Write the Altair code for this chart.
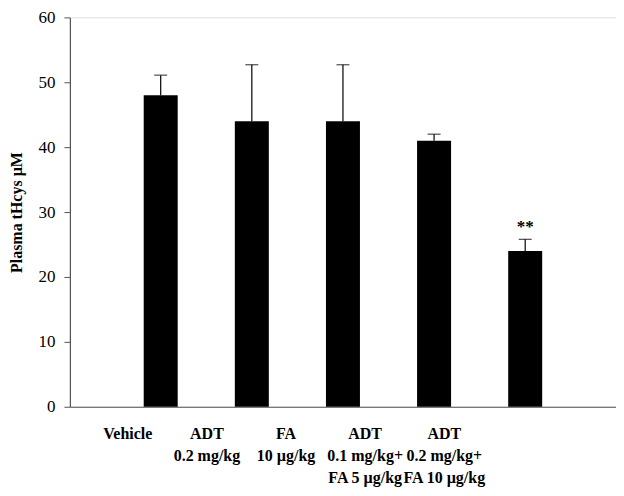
import altair as alt
import pandas as pd

groups = ["Vehicle", "ADT\n0.2 mg/kg", "FA\n10 µg/kg",
          "ADT\n0.1 mg/kg+\nFA 5 µg/kg", "ADT\n0.2 mg/kg+\nFA 10 µg/kg"]
means = [48.0, 44.0, 44.0, 41.0, 24.0]
upper = [51.1, 52.7, 52.7, 42.0, 25.8]
signif = ["", "", "", "", "**"]

df = pd.DataFrame({"g": groups, "mean": means, "upper": upper, "sig": signif})

FONT = "Liberation Serif"
AX = "#555555"

xband = alt.X("g:N", sort=None,
              scale=alt.Scale(paddingInner=0.627, paddingOuter=0.81),
              axis=alt.Axis(labels=False, ticks=False, title=None,
                            domainColor=AX, domainWidth=1.2))
yq = alt.Y("mean:Q",
           scale=alt.Scale(domain=[0, 60], nice=False),
           axis=alt.Axis(values=[0, 10, 20, 30, 40, 50, 60], grid=False,
                         tickSize=6, tickColor=AX, domainColor=AX, domainWidth=1.2,
                         labelPadding=9, labelFont=FONT, labelFontSize=17,
                         labelColor="black", title="Plasma tHcys µM",
                         titleFont=FONT, titleFontSize=16, titleFontWeight="bold",
                         titleColor="black", titlePadding=13))

base = alt.Chart(df)
bars = base.mark_bar(color="black").encode(x=xband, y=yq)
rule = base.mark_rule(color="black", strokeWidth=1.2).encode(
    x=alt.X("g:N", sort=None), y="mean:Q", y2="upper:Q")
cap = base.mark_tick(color="black", size=13, thickness=1.2).encode(
    x=alt.X("g:N", sort=None), y="upper:Q")
stars = base.mark_text(font=FONT, fontSize=17, fontWeight="bold", baseline="bottom",
                       dy=-3, color="black").encode(
    x=alt.X("g:N", sort=None), y="upper:Q", text="sig:N")

inner = alt.layer(bars, rule, cap, stars)

labels = base.transform_calculate(lines="split(datum.g, '\\n')").mark_text(
    font=FONT, fontSize=16, fontWeight="bold", align="center",
    baseline="alphabetic", lineHeight=22, color="black").encode(
    x=alt.X("g:N", sort=None,
            scale=alt.Scale(type="point", range=[58, 375], padding=0), axis=None),
    y=alt.value(422),
    text="lines:N")

chart = alt.layer(inner, labels).resolve_scale(x="independent").properties(
    width=547, height=390,
    autosize=alt.AutoSizeParams(type="none"),
    padding={"left": 62, "top": 9, "right": 0, "bottom": 85}
).configure_view(stroke=AX, strokeWidth=1.2).configure(background="white")

chart.save("out.html", embed_options={"renderer": "svg", "actions": False})
